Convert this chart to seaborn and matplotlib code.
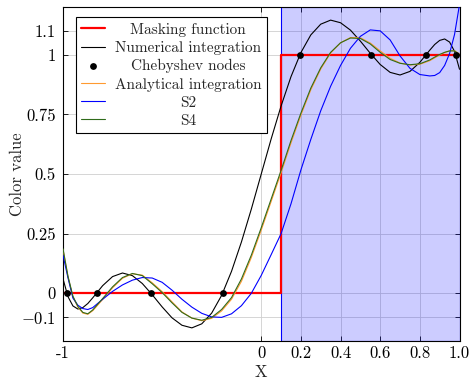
import matplotlib
matplotlib.use("Agg")
import matplotlib.pyplot as plt
import seaborn as sns
from matplotlib.offsetbox import VPacker, DrawingArea

# ---------------- data ----------------
x_grid = [-1.0, -0.975, -0.95, -0.925, -0.9, -0.875, -0.85, -0.8, -0.75, -0.7,
          -0.65, -0.6, -0.55, -0.5, -0.45, -0.4, -0.35, -0.3, -0.25, -0.2,
          -0.15, -0.1, -0.05, 0.0, 0.05, 0.1, 0.15, 0.2, 0.25, 0.3,
          0.35, 0.4, 0.45, 0.5, 0.55, 0.6, 0.65, 0.7, 0.75, 0.8,
          0.85, 0.875, 0.9, 0.925, 0.95, 0.975, 1.0]

numerical = [0.061, -0.014, -0.053, -0.066, -0.060, -0.043, -0.019, 0.032, 0.070, 0.085,
             0.074, 0.041, -0.006, -0.057, -0.103, -0.134, -0.145, -0.128, -0.083, -0.009,
             0.092, 0.215, 0.353, 0.500, 0.647, 0.785, 0.908, 1.009, 1.083, 1.128,
             1.145, 1.134, 1.103, 1.057, 1.006, 0.959, 0.926, 0.915, 0.930, 0.968,
             1.019, 1.043, 1.060, 1.066, 1.053, 1.014, 0.939]

analytical = [0.183, 0.070, -0.015, -0.058, -0.083, -0.088, -0.073, -0.026, 0.023, 0.063,
              0.082, 0.076, 0.044, 0.007, -0.036, -0.078, -0.104, -0.115, -0.105, -0.074,
              -0.025, 0.050, 0.150, 0.265, 0.385, 0.505, 0.630, 0.747, 0.853, 0.940,
              1.007, 1.050, 1.072, 1.071, 1.049, 1.016, 0.985, 0.965, 0.957, 0.960,
              0.975, 0.987, 0.999, 1.009, 1.016, 1.017, 1.003]

s2 = [0.160, 0.065, -0.020, -0.050, -0.064, -0.068, -0.060, -0.025, 0.008, 0.035,
      0.055, 0.066, 0.064, 0.046, 0.013, -0.025, -0.058, -0.084, -0.099, -0.101,
      -0.086, -0.052, 0.000, 0.075, 0.162, 0.250, 0.375, 0.517, 0.645, 0.765,
      0.868, 0.955, 1.027, 1.077, 1.104, 1.100, 1.062, 0.995, 0.943, 0.917,
      0.911, 0.913, 0.925, 0.955, 1.005, 1.085, 1.210]

s4 = [0.187, 0.072, -0.012, -0.055, -0.080, -0.086, -0.070, -0.022, 0.027, 0.066,
      0.083, 0.074, 0.040, 0.003, -0.040, -0.080, -0.104, -0.113, -0.101, -0.068,
      -0.018, 0.060, 0.160, 0.275, 0.395, 0.515, 0.640, 0.755, 0.860, 0.945,
      1.010, 1.050, 1.070, 1.068, 1.045, 1.010, 0.980, 0.964, 0.958, 0.962,
      0.978, 0.990, 1.001, 1.010, 1.016, 1.016, 1.000]

mask_x = [-1.0, 0.1, 0.1, 1.0]
mask_y = [0.0, 0.0, 1.0, 1.0]

node_x = [-0.981, -0.831, -0.556, -0.195, 0.195, 0.556, 0.831, 0.981]
node_y = [0, 0, 0, 0, 1, 1, 1, 1]

shade_range = [0.1, 1.0]

x_ticks = [-1, 0, 0.2, 0.4, 0.6, 0.8, 1.0]
x_ticklabels = ["-1", "0", "0.2", "0.4", "0.6", "0.8", "1.0"]
y_ticks = [-0.1, 0, 0.25, 0.5, 0.75, 1, 1.1]
y_ticklabels = ["$-0.1$", "0", "0.25", "0.5", "0.75", "1", "1.1"]

# ---------------- style ----------------
sns.set_theme(style="ticks")
plt.rcParams["font.family"] = ["cmr10", "DejaVu Serif"]
plt.rcParams["mathtext.fontset"] = "cm"
plt.rcParams["axes.unicode_minus"] = False
plt.rcParams["axes.formatter.use_mathtext"] = True

fig = plt.figure(figsize=(4.7, 3.8), dpi=100)
ax = fig.add_axes([63 / 470, 1 - 341 / 380, (459.5 - 63) / 470, (341 - 7) / 380])
ax.set_axisbelow(True)
ax.grid(True, color="#cfcfcf", lw=0.6)

ax.axvspan(shade_range[0], shade_range[1], facecolor=(0, 0, 1, 0.2),
           edgecolor="blue", lw=0.8, zorder=1)

lw = 0.8
sns.lineplot(x=mask_x, y=mask_y, sort=False, estimator=None, color="red",
             lw=1.6, label="Masking function", ax=ax, zorder=2)
sns.lineplot(x=x_grid, y=numerical, sort=False, estimator=None, color="black",
             lw=lw, label="Numerical integration", ax=ax, zorder=3)
sns.scatterplot(x=node_x, y=node_y, color="black", s=24, linewidth=0,
                label="Chebyshev nodes", ax=ax, zorder=6)
sns.lineplot(x=x_grid, y=analytical, sort=False, estimator=None, color="#ff9a30",
             lw=lw, label="Analytical integration", ax=ax, zorder=3)
sns.lineplot(x=x_grid, y=s2, sort=False, estimator=None, color="blue",
             lw=lw, label="S2", ax=ax, zorder=3)
sns.lineplot(x=x_grid, y=s4, sort=False, estimator=None, color="#2f6b1a",
             lw=lw, label="S4", ax=ax, zorder=4)

ax.set_xlim(-1, 1)
ax.set_ylim(-0.2, 1.2)
ax.set_xticks(x_ticks)
ax.set_xticklabels(x_ticklabels)
ax.set_yticks(y_ticks)
ax.set_yticklabels(y_ticklabels)
ax.tick_params(direction="in", length=3.5, width=0.6, top=True, right=True,
               labelsize=12, colors="black")
ax.tick_params(axis="x", pad=3.5)
ax.tick_params(axis="y", pad=5)
for sp in ax.spines.values():
    sp.set_color("black")
    sp.set_linewidth(0.8)

ax.set_xlabel("X", fontsize=12)
ax.set_ylabel("Color value", fontsize=12)
ax.xaxis.set_label_coords(0.5, -0.07)
ax.yaxis.set_label_coords(-0.096, 0.5)

handles, labels = ax.get_legend_handles_labels()
leg = ax.legend(handles, labels, loc="upper left", bbox_to_anchor=(0.032, 0.969),
                borderaxespad=0, frameon=True, fancybox=False, edgecolor="black",
                framealpha=1, fontsize=11, handlelength=1.6, labelspacing=0.28,
                borderpad=0.35, handletextpad=0.6)
leg.get_frame().set_linewidth(0.8)

# centre each legend label within the label column
fig.canvas.draw()
r = fig.canvas.get_renderer()
wmax = max(t.get_window_extent(r).width for t in leg.get_texts())
wpt = wmax * 72.0 / fig.dpi
for col in leg._legend_handle_box.get_children():
    for row in col.get_children():
        kids = row.get_children()
        h, ta = kids[0], kids[1]
        row._children = [h, VPacker(pad=0, sep=0, align="center",
                                    children=[ta, DrawingArea(wpt, 0)])]

fig.savefig("out.png", dpi=100)
